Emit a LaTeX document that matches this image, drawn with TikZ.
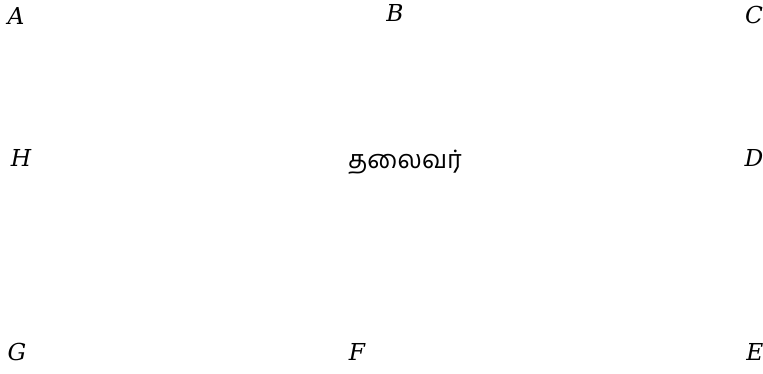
\documentclass[tikz,border=0pt]{standalone}
\usepackage{fontspec}
\newfontfamily\tamilfont[Script=Tamil]{Hind Madurai}
\newfontfamily\letterfont{DejaVu Serif}
\usetikzlibrary{positioning}

\begin{document}
\begin{tikzpicture}[x=0.75pt, y=-0.75pt,
  vertex/.style={inner sep=0pt, anchor=center, font=\letterfont\itshape\fontsize{17.5}{20}\selectfont},
  centre/.style={inner sep=0pt, anchor=center, font=\tamilfont\fontsize{19}{22}\selectfont}]
\useasboundingbox (0,0) rectangle (763,374);
\node[vertex] (A) at (16,15.5) {A};
\node[vertex] (B) at (395,13) {B};
\node[vertex] (C) at (754,15.5) {C};
\node[vertex] (H) at (21,158) {H};
\node[centre] (leader) at (405,162) {தலைவர்};
\node[vertex] (D) at (754,158) {D};
\node[vertex] (G) at (17,352) {G};
\node[vertex] (F) at (357,352) {F};
\node[vertex] (E) at (755,352) {E};
\end{tikzpicture}
\end{document}
